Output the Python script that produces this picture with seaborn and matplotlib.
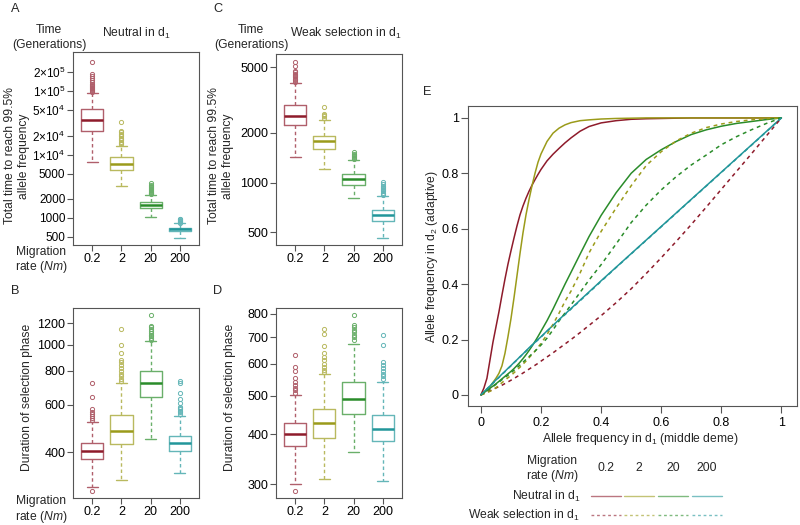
import numpy as np
import pandas as pd
import seaborn as sns
import matplotlib
matplotlib.use('Agg')
import matplotlib.pyplot as plt
from matplotlib.colors import to_rgb
from matplotlib.lines import Line2D
from matplotlib.ticker import FixedLocator, FixedFormatter, NullLocator

# migration rates and colours
migration = ['0.2', '2', '20', '200']
colors = ['#8E1B2B', '#9B9B1A', '#2A8C2A', '#22969A']

# panel A: total time, neutral in d1
a_lo = [7540, 3210, 1010, 475]
a_q1 = [24000, 5710, 1420, 606]
a_med = [34600, 7110, 1590, 651]
a_q3 = [53000, 9060, 1750, 700]
a_hi = [94000, 13900, 2290, 822]
a_out = [[97000, 100000, 104000, 108000, 112000, 116000, 121000, 127000, 133000, 140000, 150000, 163000, 178000, 186000, 292000],
         [14500, 15200, 16000, 16800, 17600, 18500, 19500, 20500, 21500, 22500, 24000, 32500],
         [2350, 2420, 2500, 2580, 2660, 2750, 2850, 2950, 3050, 3180, 3350, 3500],
         [840, 860, 880, 900, 920, 940, 952]]

# panel B: duration of selection phase, neutral in d1
b_lo = [298, 316, 447, 334]
b_q1 = [377, 431, 643, 403]
b_med = [404, 480, 721, 434]
b_q3 = [434, 548, 802, 461]
b_hi = [516, 722, 1032, 547]
b_out = [[288, 525, 535, 545, 555, 565, 578, 643, 720],
         [735, 750, 765, 780, 800, 820, 840, 860, 879, 931, 1000, 1143],
         [1045, 1060, 1075, 1090, 1105, 1120, 1140, 1160, 1175, 1289],
         [555, 562, 570, 578, 585, 590, 610, 630, 665, 720, 736]]

# panel C: total time, weak selection in d1
c_lo = [1428, 1204, 803, 465]
c_q1 = [2243, 1607, 972, 585]
c_med = [2535, 1779, 1052, 633]
c_q3 = [2953, 1927, 1133, 685]
c_hi = [4036, 2410, 1371, 826]
c_out = [[4100, 4180, 4260, 4340, 4420, 4500, 4580, 4660, 4740, 5100, 5380],
         [2460, 2520, 2580, 2619, 2870],
         [1390, 1410, 1430, 1450, 1470, 1500, 1534],
         [840, 855, 870, 885, 900, 915, 930, 945, 960, 985, 1008]]

# panel D: duration of selection phase, weak selection in d1
d_lo = [301, 309, 361, 306]
d_q1 = [374, 391, 450, 384]
d_med = [400, 426, 490, 412]
d_q3 = [426, 462, 541, 447]
d_hi = [502, 567, 671, 542]
d_out = [[288, 508, 515, 522, 530, 540, 552, 575, 590, 631],
         [572, 580, 590, 600, 612, 625, 640, 665, 712, 733],
         [690, 700, 710, 720, 730, 740, 751, 796],
         [550, 558, 566, 575, 585, 596, 608, 670, 708]]

# panel E: allele frequency in d2 vs d1
e_x = [0, 0.01, 0.02, 0.03, 0.04, 0.05, 0.06, 0.07, 0.08, 0.09, 0.1,
       0.11, 0.12, 0.13, 0.14, 0.15, 0.16, 0.17, 0.18, 0.19, 0.2,
       0.22, 0.24, 0.26, 0.28, 0.3, 0.33, 0.36, 0.4,
       0.45, 0.5, 0.55, 0.6, 0.65, 0.7, 0.75, 0.8, 0.85, 0.9, 0.95, 1.0]
neu_02 = [0, 0.025, 0.06, 0.125, 0.19, 0.245, 0.30, 0.36, 0.418, 0.472, 0.52,
          0.566, 0.61, 0.65, 0.682, 0.71, 0.735, 0.757, 0.777, 0.796, 0.814,
          0.845, 0.869, 0.89, 0.91, 0.928, 0.952, 0.969, 0.982,
          0.99, 0.995, 0.997, 0.998, 0.999, 1, 1, 1, 1, 1, 1, 1]
neu_2 = [0, 0.01, 0.02, 0.03, 0.045, 0.06, 0.078, 0.105, 0.15, 0.21, 0.275,
         0.35, 0.43, 0.51, 0.585, 0.65, 0.705, 0.755, 0.80, 0.84, 0.87,
         0.915, 0.945, 0.963, 0.975, 0.983, 0.99, 0.993, 0.996,
         0.998, 0.999, 1, 1, 1, 1, 1, 1, 1, 1, 1, 1]
neu_20 = [0, 0.008, 0.016, 0.024, 0.032, 0.04, 0.049, 0.058, 0.067, 0.076, 0.085,
          0.095, 0.106, 0.118, 0.131, 0.145, 0.16, 0.176, 0.193, 0.211, 0.23,
          0.268, 0.31, 0.355, 0.4, 0.443, 0.508, 0.572, 0.648,
          0.73, 0.80, 0.85, 0.885, 0.915, 0.94, 0.957, 0.97, 0.98, 0.987, 0.994, 1.0]
neu_200 = [0, 0.011, 0.022, 0.032, 0.043, 0.054, 0.064, 0.075, 0.085, 0.096, 0.106,
           0.117, 0.127, 0.138, 0.148, 0.159, 0.17, 0.18, 0.19, 0.2, 0.21,
           0.231, 0.251, 0.272, 0.292, 0.312, 0.342, 0.372, 0.412,
           0.461, 0.51, 0.559, 0.608, 0.657, 0.706, 0.755, 0.804, 0.853, 0.902, 0.951, 1.0]
sel_02 = [0, 0.005, 0.01, 0.015, 0.02, 0.025, 0.03, 0.035, 0.041, 0.047, 0.053,
          0.059, 0.066, 0.072, 0.079, 0.086, 0.093, 0.1, 0.107, 0.114, 0.122,
          0.137, 0.152, 0.168, 0.184, 0.2, 0.225, 0.251, 0.286,
          0.333, 0.383, 0.438, 0.495, 0.554, 0.615, 0.678, 0.742, 0.806, 0.87, 0.935, 1.0]
sel_2 = [0, 0.004, 0.008, 0.013, 0.018, 0.026, 0.035, 0.044, 0.053, 0.062, 0.07,
         0.08, 0.09, 0.1, 0.111, 0.122, 0.134, 0.146, 0.158, 0.172, 0.186,
         0.218, 0.255, 0.295, 0.338, 0.375, 0.44, 0.513, 0.59,
         0.675, 0.755, 0.828, 0.878, 0.917, 0.945, 0.965, 0.978, 0.987, 0.993, 0.997, 1.0]
sel_20 = [0, 0.007, 0.014, 0.022, 0.03, 0.038, 0.046, 0.055, 0.063, 0.071, 0.08,
          0.089, 0.098, 0.108, 0.118, 0.128, 0.138, 0.148, 0.158, 0.169, 0.18,
          0.205, 0.235, 0.267, 0.296, 0.325, 0.37, 0.415, 0.47,
          0.545, 0.622, 0.685, 0.74, 0.788, 0.83, 0.866, 0.903, 0.932, 0.957, 0.98, 1.0]
sel_200 = [0, 0.011, 0.021, 0.032, 0.042, 0.053, 0.063, 0.074, 0.084, 0.095, 0.105,
           0.116, 0.126, 0.137, 0.147, 0.158, 0.168, 0.179, 0.189, 0.199, 0.209,
           0.23, 0.25, 0.27, 0.29, 0.31, 0.34, 0.37, 0.41,
           0.46, 0.509, 0.558, 0.607, 0.656, 0.705, 0.754, 0.803, 0.852, 0.901, 0.95, 1.0]

sns.set_style('ticks')
plt.rcParams['font.family'] = ['Liberation Sans', 'DejaVu Sans']
plt.rcParams['mathtext.fontset'] = 'custom'
plt.rcParams['mathtext.rm'] = 'Liberation Sans'
plt.rcParams['mathtext.it'] = 'Liberation Sans:italic'
plt.rcParams['mathtext.sf'] = 'Liberation Sans'
FS = 8.7
TS = 9.0


def light(c, f=0.7):
    # blend colour with white
    r, g, b = to_rgb(c)
    return (r + (1 - r) * (1 - f), g + (1 - g) * (1 - f), b + (1 - b) * (1 - f))


def px(x, y):
    return x / 800, 1 - y / 525


def make_ax(fig, l, t, r, b):
    ax = fig.add_axes([l / 800, 1 - b / 525, (r - l) / 800, (b - t) / 525])
    for s in ax.spines.values():
        s.set_color('#555555')
        s.set_linewidth(0.8)
    ax.tick_params(colors='#555555', labelcolor='black', labelsize=TS, length=4, width=0.8)
    return ax


def draw_boxes(ax, lo, q1, med, q3, hi, outs, ylim, ticks, labels):
    for i in range(4):
        st = dict(whislo=lo[i], q1=q1[i], med=med[i], q3=q3[i], whishi=hi[i], fliers=outs[i])
        lc = light(colors[i], 0.7)
        ax.bxp([st], positions=[i + 1], widths=0.76, capwidths=0.38,
               boxprops=dict(color=lc, lw=1.0),
               whiskerprops=dict(color=lc, lw=1.0, ls=(0, (2.5, 2))),
               capprops=dict(color=lc, lw=1.0),
               medianprops=dict(color=colors[i], lw=1.8),
               flierprops=dict(marker='o', mfc='none', mec=lc, ms=3, mew=0.7))
    ax.set_yscale('log')
    ax.set_ylim(*ylim)
    ax.set_xlim(0.34, 4.66)
    ax.yaxis.set_major_locator(FixedLocator(ticks))
    ax.yaxis.set_major_formatter(FixedFormatter(labels))
    ax.yaxis.set_minor_locator(NullLocator())
    ax.set_xticks([1, 2, 3, 4])
    ax.set_xticklabels(migration)
    ax.tick_params(axis='y', pad=1.5)
    ax.tick_params(axis='x', pad=2)


fig = plt.figure(figsize=(8, 5.25), dpi=100)

axA = make_ax(fig, 73, 52, 199, 245)
draw_boxes(axA, a_lo, a_q1, a_med, a_q3, a_hi, a_out, (370, 4.2e5),
           [500, 1000, 2000, 5000, 1e4, 2e4, 5e4, 1e5, 2e5],
           ['500', '1000', '2000', '5000', r'1$\times$10$^4$', r'2$\times$10$^4$', r'5$\times$10$^4$',
            r'1$\times$10$^5$', r'2$\times$10$^5$'])
axA.tick_params(axis='y', labelsize=8.5)

axB = make_ax(fig, 73, 308, 199, 498)
draw_boxes(axB, b_lo, b_q1, b_med, b_q3, b_hi, b_out, (271, 1368),
           [400, 600, 800, 1000, 1200], ['400', '600', '800', '1000', '1200'])

axC = make_ax(fig, 276, 54, 402, 245)
draw_boxes(axC, c_lo, c_q1, c_med, c_q3, c_hi, c_out, (419, 6020),
           [500, 1000, 2000, 5000], ['500', '1000', '2000', '5000'])

axD = make_ax(fig, 276, 308, 402, 498)
draw_boxes(axD, d_lo, d_q1, d_med, d_q3, d_hi, d_out, (277, 828),
           [300, 400, 500, 600, 700, 800], ['300', '400', '500', '600', '700', '800'])

# panel E
axE = make_ax(fig, 468, 106, 797, 406)
neutral = [neu_02, neu_2, neu_20, neu_200]
weak = [sel_02, sel_2, sel_20, sel_200]
for i in range(4):
    sns.lineplot(x=e_x, y=neutral[i], ax=axE, color=colors[i], lw=1.1)
for i in range(4):
    sns.lineplot(x=e_x, y=weak[i], ax=axE, color=colors[i], lw=1.1, linestyle=(0, (2.5, 2.5)))
axE.set_xlim(-0.043, 1.052)
axE.set_ylim(-0.04, 1.043)
axE.set_xticks([0, 0.2, 0.4, 0.6, 0.8, 1])
axE.set_xticklabels(['0', '0.2', '0.4', '0.6', '0.8', '1'])
axE.set_yticks([0, 0.2, 0.4, 0.6, 0.8, 1])
axE.set_yticklabels(['0', '0.2', '0.4', '0.6', '0.8', '1'])
axE.tick_params(axis='y', pad=1.5, length=5)
axE.tick_params(axis='x', pad=3, length=5)
axE.set_xlabel('')
axE.set_ylabel('')

# panel letters
for letter, (x, y) in zip('ABCDE', [(15, 9), (15, 291), (218, 9), (218, 291), (427, 92)]):
    fig.text(*px(x, y), letter, fontsize=FS + 0.5, ha='center', va='center')

# panel A/C headers
for xc in (49, 251):
    fig.text(*px(xc, 30), 'Time', fontsize=FS, ha='center', va='center')
    fig.text(*px(xc, 45), '(Generations)', fontsize=FS, ha='center', va='center')
fig.text(*px(136, 33), r'Neutral in d$_1$', fontsize=FS, ha='center', va='center')
fig.text(*px(346, 33), r'Weak selection in d$_1$', fontsize=FS, ha='center', va='center')

# y labels
fig.text(*px(17, 156), 'Total time to reach 99.5%\nallele frequency', fontsize=FS, rotation=90,
         ha='center', va='center', multialignment='center', linespacing=1.3)
fig.text(*px(221, 156), 'Total time to reach 99.5%\nallele frequency', fontsize=FS, rotation=90,
         ha='center', va='center', multialignment='center', linespacing=1.3)
fig.text(*px(27, 397), 'Duration of selection phase', fontsize=FS, rotation=90, ha='center', va='center')
fig.text(*px(230, 397), 'Duration of selection phase', fontsize=FS, rotation=90, ha='center', va='center')
fig.text(*px(432, 256), r'Allele frequency in d$_2$ (adaptive)', fontsize=FS, rotation=90, ha='center', va='center')
fig.text(*px(640, 439), r'Allele frequency in d$_1$ (middle deme)', fontsize=FS, ha='center', va='center')

# migration rate labels
for (x, y1, y2) in [(41, 252, 267), (41, 501, 517), (552, 461, 476)]:
    fig.text(*px(x, y1), 'Migration', fontsize=FS, ha='center', va='center')
    fig.text(*px(x, y2), r'rate $\mathit{(Nm)}$', fontsize=FS, ha='center', va='center')

# legend for panel E
leg_x = [(591, 621), (624, 654), (658, 688), (692, 722)]
for i, (x0, x1) in enumerate(leg_x):
    fig.text(*px((x0 + x1) / 2, 468), migration[i], fontsize=FS, ha='center', va='center')
    lc = light(colors[i], 0.6)
    fig.add_artist(Line2D([x0 / 800, x1 / 800], [1 - 496 / 525] * 2, color=lc, lw=1.0))
    fig.add_artist(Line2D([x0 / 800, x1 / 800], [1 - 515 / 525] * 2, color=lc, lw=1.0, ls=(0, (2, 2))))
fig.text(*px(580, 496), r'Neutral in d$_1$', fontsize=FS, ha='right', va='center')
fig.text(*px(580, 515), r'Weak selection in d$_1$', fontsize=FS, ha='right', va='center')

fig.savefig('out.png', dpi=100)
